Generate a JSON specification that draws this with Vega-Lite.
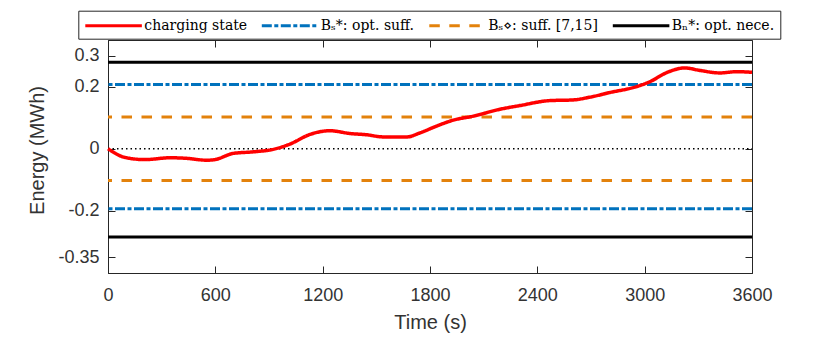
{
  "$schema": "https://vega.github.io/schema/vega-lite/v6.json",
  "width": 644,
  "height": 233,
  "autosize": {"type": "none"},
  "padding": {"left": 108, "top": 40, "right": 78, "bottom": 64},
  "background": "white",
  "config": {
    "view": {"stroke": "#262626", "strokeWidth": 1},
    "axis": {
      "labelFont": "Liberation Sans",
      "titleFont": "Liberation Sans",
      "labelFontSize": 18,
      "titleFontSize": 20,
      "titleFontWeight": "normal",
      "labelColor": "#333333",
      "titleColor": "#333333",
      "domainColor": "#262626",
      "tickColor": "#262626",
      "grid": false,
      "tickSize": -7,
      "labelFlush": false
    },
    "legend": {
      "labelFont": "DejaVu Serif",
      "labelFontSize": 14,
      "labelColor": "black",
      "labelLimit": 0
    }
  },
  "datasets": {
    "charging": [
      {"series": "charging state", "t": 0, "E": 0},
      {"series": "charging state", "t": 95, "E": -0.028},
      {"series": "charging state", "t": 207, "E": -0.035},
      {"series": "charging state", "t": 347, "E": -0.029},
      {"series": "charging state", "t": 440, "E": -0.031},
      {"series": "charging state", "t": 552, "E": -0.037},
      {"series": "charging state", "t": 598, "E": -0.035},
      {"series": "charging state", "t": 700, "E": -0.015},
      {"series": "charging state", "t": 812, "E": -0.010},
      {"series": "charging state", "t": 924, "E": -0.002},
      {"series": "charging state", "t": 1017, "E": 0.015},
      {"series": "charging state", "t": 1129, "E": 0.046},
      {"series": "charging state", "t": 1241, "E": 0.058},
      {"series": "charging state", "t": 1353, "E": 0.049},
      {"series": "charging state", "t": 1446, "E": 0.045},
      {"series": "charging state", "t": 1539, "E": 0.038},
      {"series": "charging state", "t": 1670, "E": 0.038},
      {"series": "charging state", "t": 1744, "E": 0.051},
      {"series": "charging state", "t": 1837, "E": 0.073},
      {"series": "charging state", "t": 1930, "E": 0.092},
      {"series": "charging state", "t": 2042, "E": 0.105},
      {"series": "charging state", "t": 2191, "E": 0.127},
      {"series": "charging state", "t": 2303, "E": 0.139},
      {"series": "charging state", "t": 2471, "E": 0.155},
      {"series": "charging state", "t": 2599, "E": 0.157},
      {"series": "charging state", "t": 2694, "E": 0.166},
      {"series": "charging state", "t": 2806, "E": 0.181},
      {"series": "charging state", "t": 2955, "E": 0.200},
      {"series": "charging state", "t": 3030, "E": 0.216},
      {"series": "charging state", "t": 3123, "E": 0.245},
      {"series": "charging state", "t": 3225, "E": 0.260},
      {"series": "charging state", "t": 3309, "E": 0.252},
      {"series": "charging state", "t": 3421, "E": 0.244},
      {"series": "charging state", "t": 3514, "E": 0.248},
      {"series": "charging state", "t": 3600, "E": 0.246}
    ],
    "bounds": [
      {"series": "Bₛ*: opt. suff.", "E": 0.207},
      {"series": "Bₛ*: opt. suff.", "E": -0.193},
      {"series": "Bₛ⋄: suff. [7,15]", "E": 0.102},
      {"series": "Bₛ⋄: suff. [7,15]", "E": -0.102},
      {"series": "Bₙ*: opt. nece.", "E": 0.278},
      {"series": "Bₙ*: opt. nece.", "E": -0.284}
    ],
    "zero": [
      {"t0": 0, "t1": 3600, "E": 0}
    ]
  },
  "resolve": {"axis": {"x": "independent", "y": "independent"}},
  "layer": [
    {
      "data": {"name": "zero"},
      "mark": {"type": "rule", "color": "#000000", "strokeWidth": 1.3, "strokeDash": [1.5, 3]},
      "encoding": {
        "x": {"field": "t0", "type": "quantitative", "scale": {"domain": [0, 3600], "nice": false},
          "axis": {"orient": "top", "labels": false, "title": null, "domain": false, "values": [0, 600, 1200, 1800, 2400, 3000, 3600]}},
        "x2": {"field": "t1"},
        "y": {"field": "E", "type": "quantitative", "scale": {"domain": [-0.4, 0.35], "nice": false, "zero": false},
          "axis": {"orient": "right", "labels": false, "title": null, "domain": false, "values": [-0.35, -0.2, 0, 0.2, 0.3]}}
      }
    },
    {
      "data": {"name": "bounds"},
      "mark": {"type": "rule", "strokeWidth": 3},
      "encoding": {
        "y": {"field": "E", "type": "quantitative",
          "axis": {"orient": "left", "title": "Energy (MWh)", "values": [-0.35, -0.2, 0, 0.2, 0.3],
            "labelExpr": "toString(datum.value)", "labelPadding": 16, "titlePadding": 10, "titleY": 110}},
        "color": {"field": "series", "type": "nominal",
          "scale": {"domain": ["charging state", "Bₛ*: opt. suff.", "Bₛ⋄: suff. [7,15]", "Bₙ*: opt. nece."],
            "range": ["#ff0000", "#0072bd", "#e3820c", "#000000"]},
          "legend": {
            "orient": "none", "legendX": -29.7, "legendY": -29.3,
            "direction": "horizontal", "title": null,
            "symbolType": "M0,0H8", "symbolSize": 200, "symbolStrokeWidth": 3, "symbolOffset": -8,
            "labelOffset": 50, "columnPadding": 8.5,
            "strokeColor": "#262626", "fillColor": "white", "padding": 6
          }},
        "strokeDash": {"field": "series", "type": "nominal",
          "scale": {"domain": ["charging state", "Bₛ*: opt. suff.", "Bₛ⋄: suff. [7,15]", "Bₙ*: opt. nece."],
            "range": [[1, 0], [10, 2.5, 4, 2.5], [10.5, 9.5], [1, 0]]}}
      }
    },
    {
      "data": {"name": "charging"},
      "mark": {"type": "line", "strokeWidth": 3.5, "interpolate": "monotone"},
      "encoding": {
        "x": {"field": "t", "type": "quantitative",
          "axis": {"orient": "bottom", "title": "Time (s)", "values": [0, 600, 1200, 1800, 2400, 3000, 3600],
            "labelExpr": "toString(datum.value)", "labelPadding": 20, "titlePadding": 8}},
        "y": {"field": "E", "type": "quantitative", "axis": null},
        "color": {"field": "series", "type": "nominal"},
        "strokeDash": {"field": "series", "type": "nominal"}
      }
    }
  ]
}
